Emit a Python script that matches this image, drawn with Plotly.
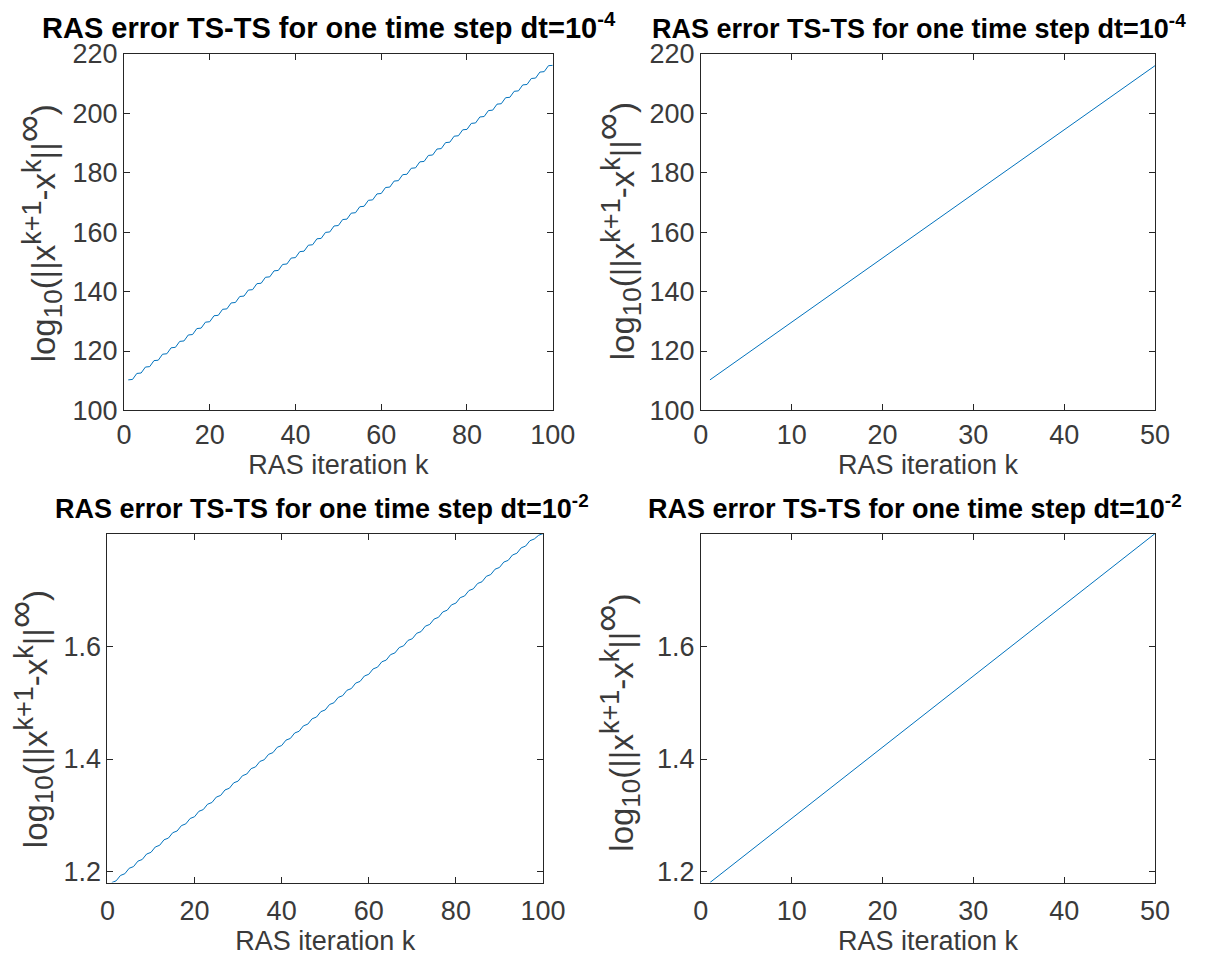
import plotly.graph_objects as go
from plotly.subplots import make_subplots

# ---- data ----
k100 = list(range(1, 101))
k50 = list(range(1, 51))

err_dt4_100 = [
    110.30, 110.45, 112.46, 112.61, 114.61, 114.76, 116.77, 116.92, 118.93, 119.08,
    121.09, 121.24, 123.24, 123.39, 125.40, 125.55, 127.56, 127.71, 129.71, 129.86,
    131.87, 132.02, 134.03, 134.18, 136.18, 136.33, 138.34, 138.49, 140.50, 140.65,
    142.66, 142.81, 144.81, 144.96, 146.97, 147.12, 149.13, 149.28, 151.28, 151.43,
    153.44, 153.59, 155.60, 155.75, 157.75, 157.90, 159.91, 160.06, 162.07, 162.22,
    164.23, 164.38, 166.38, 166.53, 168.54, 168.69, 170.70, 170.85, 172.85, 173.00,
    175.01, 175.16, 177.17, 177.32, 179.32, 179.47, 181.48, 181.63, 183.64, 183.79,
    185.80, 185.95, 187.95, 188.10, 190.11, 190.26, 192.27, 192.42, 194.42, 194.57,
    196.58, 196.73, 198.74, 198.89, 200.89, 201.04, 203.05, 203.20, 205.21, 205.36,
    207.37, 207.52, 209.52, 209.67, 211.68, 211.83, 213.84, 213.99, 215.99, 216.10,
]

err_dt4_50 = [
    110.30, 112.46, 114.61, 116.77, 118.93, 121.09, 123.24, 125.40, 127.56, 129.71,
    131.87, 134.03, 136.18, 138.34, 140.50, 142.66, 144.81, 146.97, 149.13, 151.28,
    153.44, 155.60, 157.75, 159.91, 162.07, 164.23, 166.38, 168.54, 170.70, 172.85,
    175.01, 177.17, 179.32, 181.48, 183.64, 185.80, 187.95, 190.11, 192.27, 194.42,
    196.58, 198.74, 200.89, 203.05, 205.21, 207.37, 209.52, 211.68, 213.84, 215.99,
]

err_dt2_100 = [
    1.1810, 1.1840, 1.1936, 1.1966, 1.2063, 1.2093, 1.2189, 1.2219, 1.2315, 1.2345,
    1.2441, 1.2471, 1.2568, 1.2598, 1.2694, 1.2724, 1.2820, 1.2850, 1.2946, 1.2976,
    1.3073, 1.3103, 1.3199, 1.3229, 1.3325, 1.3355, 1.3452, 1.3482, 1.3578, 1.3608,
    1.3704, 1.3734, 1.3830, 1.3860, 1.3957, 1.3987, 1.4083, 1.4113, 1.4209, 1.4239,
    1.4335, 1.4365, 1.4462, 1.4492, 1.4588, 1.4618, 1.4714, 1.4744, 1.4840, 1.4870,
    1.4967, 1.4997, 1.5093, 1.5123, 1.5219, 1.5249, 1.5346, 1.5376, 1.5472, 1.5502,
    1.5598, 1.5628, 1.5724, 1.5754, 1.5851, 1.5881, 1.5977, 1.6007, 1.6103, 1.6133,
    1.6229, 1.6259, 1.6356, 1.6386, 1.6482, 1.6512, 1.6608, 1.6638, 1.6734, 1.6764,
    1.6861, 1.6891, 1.6987, 1.7017, 1.7113, 1.7143, 1.7240, 1.7270, 1.7366, 1.7396,
    1.7492, 1.7522, 1.7618, 1.7648, 1.7745, 1.7775, 1.7871, 1.7901, 1.7967, 1.7997,
]

err_dt2_50 = [
    1.1810, 1.1936, 1.2063, 1.2189, 1.2315, 1.2441, 1.2568, 1.2694, 1.2820, 1.2946,
    1.3073, 1.3199, 1.3325, 1.3452, 1.3578, 1.3704, 1.3830, 1.3957, 1.4083, 1.4209,
    1.4335, 1.4462, 1.4588, 1.4714, 1.4840, 1.4967, 1.5093, 1.5219, 1.5346, 1.5472,
    1.5598, 1.5724, 1.5851, 1.5977, 1.6103, 1.6229, 1.6356, 1.6482, 1.6608, 1.6734,
    1.6861, 1.6987, 1.7113, 1.7240, 1.7366, 1.7492, 1.7618, 1.7745, 1.7871, 1.7997,
]

titles = [
    "RAS error TS-TS for one time step dt=10<sup>-4</sup>",
    "RAS error TS-TS for one time step dt=10<sup>-4</sup>",
    "RAS error TS-TS for one time step dt=10<sup>-2</sup>",
    "RAS error TS-TS for one time step dt=10<sup>-2</sup>",
]
xlabel = "RAS iteration k"
ylabel = ("log<sub><span style='font-size:26px'>10</span></sub>"
          "(||x<sup><span style='font-size:27px'>k+1</span></sup>"
          "-x<sup><span style='font-size:27px'>k</span></sup>||"
          "<sup><span style='font-size:38px'>∞</span></sup>)")

xticks_100 = [0, 20, 40, 60, 80, 100]
xticks_50 = [0, 10, 20, 30, 40, 50]
yticks_top = [100, 120, 140, 160, 180, 200, 220]
yticks_bot = [1.2, 1.4, 1.6, 1.8]

W, H = 1216, 978
# axes boxes in pixels: (left, right, top, bottom)
boxes = [
    (119, 559, 40, 408),
    (711, 1177, 40, 408),
    (102, 549, 535, 895),
    (711, 1177, 535, 895),
]
title_pos = [(329, 29), (935, 27), (322, 27), (931, 27)]   # (center x, font size)
ylabel_pos = [(30, 225), (624, 223), (22, 726), (624, 730)]
tick_standoff = [0, 0, 4, 4]

series = [
    (k100, err_dt4_100, [0, 100], [100, 220], xticks_100, yticks_top),
    (k50, err_dt4_50, [0, 50], [100, 220], xticks_50, yticks_top),
    (k100, err_dt2_100, [0, 100], [1.181, 1.7997], xticks_100, yticks_bot),
    (k50, err_dt2_50, [0, 50], [1.181, 1.7997], xticks_50, yticks_bot),
]

fig = make_subplots(rows=2, cols=2)
font_family = "Liberation Sans, Arial, Helvetica, sans-serif"
axis_color = "#262626"
text_color = "#3a3a3a"

annotations = []
for i, ((x, y, xr, yr, xt, yt), (l, r, t, b)) in enumerate(zip(series, boxes)):
    row, col = i // 2 + 1, i % 2 + 1
    fig.add_trace(
        go.Scatter(x=x, y=y, mode="lines",
                   line=dict(color="#0072BD", width=1), showlegend=False),
        row=row, col=col,
    )
    common = dict(showline=True, linecolor=axis_color, linewidth=1, mirror="ticks",
                  ticks="inside", ticklen=6, tickcolor=axis_color, showgrid=False,
                  zeroline=False,
                  tickfont=dict(family=font_family, size=27, color=text_color))
    fig.update_xaxes(domain=[l / W, r / W], range=xr, tickvals=xt,
                     ticklabelstandoff=tick_standoff[i],
                     title=dict(text=xlabel, standoff=2,
                                font=dict(family=font_family, size=27, color=text_color)),
                     row=row, col=col, **common)
    fig.update_yaxes(domain=[1 - b / H, 1 - t / H], range=yr, tickvals=yt,
                     row=row, col=col, **common)
    tx, tsize = title_pos[i]
    annotations.append(dict(
        text="<b>" + titles[i] + "</b>", x=tx / W, y=1 - (t - 8) / H,
        xref="paper", yref="paper", xanchor="center", yanchor="bottom",
        showarrow=False, font=dict(family=font_family, size=tsize, color="#000000"),
    ))
    yx, yy = ylabel_pos[i]
    annotations.append(dict(
        text=ylabel, x=yx / W, y=1 - yy / H, textangle=-90,
        xref="paper", yref="paper", xanchor="center", yanchor="middle",
        showarrow=False, font=dict(family=font_family, size=33, color=text_color),
    ))

fig.update_layout(
    width=W, height=H, margin=dict(l=0, r=0, t=0, b=0),
    plot_bgcolor="white", paper_bgcolor="white",
    annotations=annotations,
)
fig.write_html("out.html")
